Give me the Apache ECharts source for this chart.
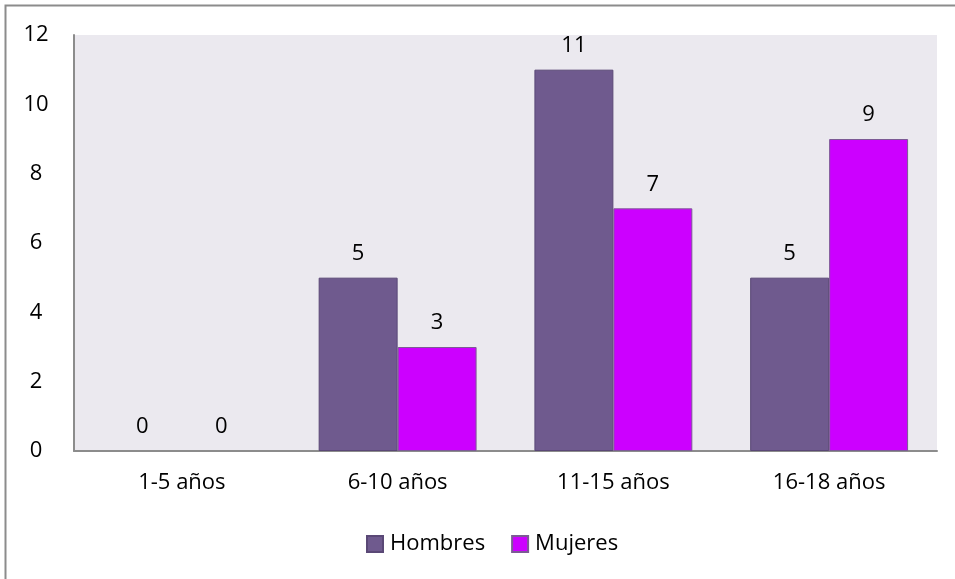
<!DOCTYPE html>
<html>
<head>
<meta charset="utf-8">
<script src="https://cdn.jsdelivr.net/npm/echarts@6/dist/echarts.min.js"></script>
<style>
  html, body { margin: 0; padding: 0; background: #fff; }
  #chart { width: 955px; height: 579px; }
</style>
</head>
<body>
<div id="chart"></div>
<script>
// Age groups and counts by sex
const categories = ['1-5 años', '6-10 años', '11-15 años', '16-18 años'];
const hombres = [0, 5, 11, 5];
const mujeres = [0, 3, 7, 9];
const seriesNames = ['Hombres', 'Mujeres'];

const FONT = '"Open Sans", "Noto Sans", sans-serif';
const FS = 22;

const chart = echarts.init(document.getElementById('chart'));

const labelStyle = {
  show: true,
  position: 'top',
  distance: 13,
  color: '#000',
  fontSize: FS,
  fontFamily: FONT
};

// zero-height bars get no outline so nothing shows on the baseline
function toItems(values) {
  return values.map(v => v === 0 ? { value: v, itemStyle: { borderWidth: 0 } } : v);
}

chart.setOption({
  animation: false,
  graphic: [{
    type: 'rect',
    z: 100,
    shape: { x: 5.5, y: 5.5, width: 2000, height: 2000 },
    style: { fill: 'none', stroke: '#8c8c8c', lineWidth: 2 }
  }],
  grid: {
    left: 74, right: 18, top: 35, bottom: 128,
    show: true,
    backgroundColor: '#ebe9ef',
    borderWidth: 0
  },
  legend: {
    data: seriesNames,
    bottom: 19,
    left: 361,
    itemWidth: 16,
    itemHeight: 16,
    itemGap: 26,
    icon: 'rect',
    textStyle: { color: '#000', fontSize: FS, fontFamily: FONT, padding: [0, 0, 0, 2] }
  },
  xAxis: {
    type: 'category',
    data: categories,
    axisLine: { show: true, lineStyle: { color: '#8c8c8c', width: 2 } },
    axisTick: { show: false },
    axisLabel: { color: '#000', fontSize: FS, fontFamily: FONT, margin: 21 }
  },
  yAxis: {
    type: 'value',
    min: 0, max: 12, interval: 2,
    splitLine: { show: false },
    axisLine: { show: true, lineStyle: { color: '#8c8c8c', width: 2 } },
    axisTick: { show: false },
    axisLabel: { color: '#000', fontSize: FS, fontFamily: FONT, margin: 38, align: 'center' }
  },
  series: [
    {
      name: seriesNames[0],
      type: 'bar',
      data: toItems(hombres),
      barWidth: '36.6%',
      barGap: '0%',
      itemStyle: { color: '#6f5a8e', borderColor: '#5a4876', borderWidth: 1 },
      label: labelStyle
    },
    {
      name: seriesNames[1],
      type: 'bar',
      data: toItems(mujeres),
      barWidth: '36.6%',
      barGap: '0%',
      itemStyle: { color: '#cc00ff', borderColor: '#7c5a95', borderWidth: 1 },
      label: labelStyle
    }
  ]
});
</script>
</body>
</html>
